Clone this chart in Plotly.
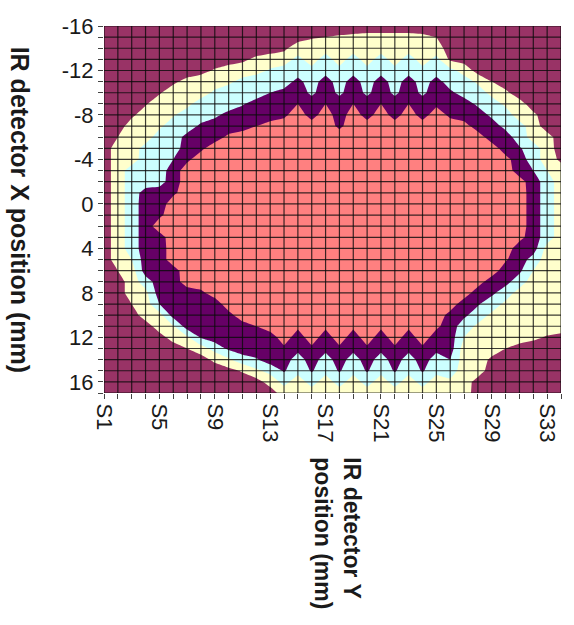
import plotly.graph_objects as go

# Grid of the IR detector scan: columns S1..S34 (detector Y), rows -16..17 mm (detector X)
cols = list(range(1, 35))
rows = list(range(-16, 18))
col_labels = ["S%d" % c for c in cols]
x_tick_cols = [1, 5, 9, 13, 17, 21, 25, 29, 33]
y_tick_rows = [-16, -12, -8, -4, 0, 4, 8, 12, 16]

N = None
# Per column (S1..S34): X position (mm) where each intensity band starts (top) and ends (bottom)
yellow_top = [N, -6.0, -7.8, -8.9, -9.9, -10.8, -11.3, -11.7, -12.1, -12.5, -12.8, -13.2,
              -13.5, -13.8, -14.6, -14.9, -15.0, -15.1, -15.2, -15.3, -15.3, -15.3, -15.3,
              -15.2, -15.0, -12.8, -12.6, -11.6, -11.0, -10.2, -9.4, -8.2, -6.4, -3.8]
yellow_bottom = [N, 6.0, 9.0, 10.5, 11.6, 12.4, 13.0, 13.6, 14.2, 14.7, 15.1, 15.6,
                 16.4, 17.5, 17.5, 17.5, 17.5, 17.5, 17.5, 17.5, 17.5, 17.5, 17.5,
                 17.5, 17.5, 17.5, 17.5, 15.6, 13.8, 13.0, 12.6, 12.2, 11.9, 11.7]
cyan_top = [N, N, -3.5, -5.4, -6.8, -7.9, -8.7, -9.5, -10.2, -10.8, -11.3, -11.7,
            -12.1, -12.4, -13.3, -12.3, -13.5, -12.3, -13.5, -12.3, -13.5, -12.3, -13.5,
            -12.3, -13.3, -12.3, -11.6, -10.8, -9.7, -8.8, -7.4, -5.6, -3.0, N]
cyan_bottom = [N, N, 5.0, 7.7, 9.6, 10.9, 11.7, 12.5, 13.2, 13.8, 14.4, 14.8,
               15.3, 16.3, 15.3, 16.4, 15.3, 16.4, 15.3, 16.4, 15.3, 16.4, 15.3,
               16.4, 15.3, 15.8, 12.0, 10.8, 9.8, 8.8, 7.6, 6.0, 3.6, N]
purple_top = [N, N, N, -1.4, -1.6, -4.0, -6.3, -7.2, -7.8, -8.3, -8.9, -9.4,
              -10.0, -10.3, -11.3, -9.8, -11.6, -9.8, -11.6, -9.8, -11.6, -9.8, -11.6,
              -9.8, -11.4, -10.2, -9.6, -8.8, -7.8, -6.7, -5.1, -3.0, N, N]
purple_bottom = [N, N, N, 6.5, 9.0, 10.4, 11.6, 12.1, 12.7, 13.2, 13.7, 13.9,
                 14.5, 15.1, 13.3, 15.1, 13.3, 15.1, 13.3, 15.1, 13.3, 15.1, 13.3,
                 15.1, 13.3, 14.0, 10.2, 9.1, 8.2, 7.3, 6.2, 4.6, N, N]
pink_top = [N, N, N, N, 1.2, -0.8, -3.8, -4.8, -5.6, -6.2, -6.6, -7.0,
            -7.4, -7.8, -9.0, -7.6, -9.0, -6.8, -9.0, -7.6, -9.0, -7.6, -9.0,
            -7.6, -8.8, -7.8, -7.4, -6.5, -5.5, -4.3, -2.4, N, N, N]
pink_bottom = [N, N, N, N, 2.6, 5.6, 7.5, 7.8, 8.4, 9.7, 10.6, 11.0,
               11.5, 12.8, 11.2, 12.8, 11.2, 12.8, 11.2, 12.8, 11.2, 12.8, 11.2,
               12.8, 11.2, 9.7, 8.5, 7.4, 6.5, 5.1, 3.3, N, N, N]

band_colors = ["#993366", "#FFFFCC", "#CCFFFF", "#660066", "#FF8080"]
bands = [(yellow_top, yellow_bottom), (cyan_top, cyan_bottom),
         (purple_top, purple_bottom), (pink_top, pink_bottom)]


def membership(v, top, bottom):
    # 1 inside the band, 0 outside, crossing 0.5 exactly on its edges
    if top is None:
        return 0.0
    return min(1.0, max(0.0, min(v - top, bottom - v) + 0.5))


# band level surface: each contour level k + 0.5 follows the edges of band k + 1
z = [[sum(membership(v, tops[j], bottoms[j]) for tops, bottoms in bands)
      for j in range(len(cols))] for v in rows]

# stepped colour scale so that each band gets one flat colour
scale = []
edges = [0, 0.125, 0.375, 0.625, 0.875, 1]
for k, col in enumerate(band_colors):
    scale.append([edges[k], col])
    scale.append([edges[k + 1], col])

fig = go.Figure()
fig.add_trace(go.Contour(
    x=cols, y=rows, z=z,
    zmin=0, zmax=4,
    contours=dict(start=0.5, end=3.5, size=1, coloring="fill", showlines=False),
    colorscale=scale, showscale=False, line=dict(width=0, smoothing=0),
    hoverinfo="skip",
))

grid_color = "rgba(10,10,10,0.8)"
for c in cols:
    fig.add_shape(type="line", xref="x", yref="y", x0=c, x1=c, y0=rows[0], y1=rows[-1],
                  line=dict(color=grid_color, width=1.2), layer="above")
for r in rows:
    fig.add_shape(type="line", xref="x", yref="y", x0=cols[0], x1=cols[-1], y0=r, y1=r,
                  line=dict(color=grid_color, width=1.2), layer="above")

font_family = "Liberation Sans, Arial, sans-serif"
tick_font = dict(family=font_family, size=22, color="#1a1a1a")
fig.update_layout(
    width=574, height=625,
    margin=dict(l=104, r=13, t=26, b=232),
    paper_bgcolor="white", plot_bgcolor="white",
    showlegend=False,
    xaxis=dict(
        range=[cols[0], cols[-1]], tickmode="array",
        tickvals=x_tick_cols, ticktext=[col_labels[c - 1] for c in x_tick_cols],
        tickangle=90, tickfont=tick_font, showgrid=False, zeroline=False,
        ticks="outside", ticklen=5, tickcolor="#444",
        minor=dict(tickmode="linear", tick0=1, dtick=1, ticks="outside", ticklen=5,
                   tickcolor="#444", showgrid=False),
    ),
    yaxis=dict(
        range=[rows[-1], rows[0]], tickmode="array",
        tickvals=y_tick_rows, ticktext=[str(v) for v in y_tick_rows],
        tickfont=tick_font, showgrid=False, zeroline=False,
        ticks="outside", ticklen=5, tickcolor="#444",
        minor=dict(tickmode="linear", tick0=0, dtick=1, ticks="outside", ticklen=5,
                   tickcolor="#444", showgrid=False),
    ),
    annotations=[
        dict(text="<b>IR detector X position (mm)</b>", textangle=90,
             xref="paper", yref="paper", x=-0.182, y=0.5, xanchor="center", yanchor="middle",
             showarrow=False, font=dict(family=font_family, size=25, color="#1a1a1a")),
        dict(text="<b>IR detector Y<br>position (mm)</b>", textangle=90,
             xref="paper", yref="paper", x=0.51, y=-0.17, xanchor="center", yanchor="top",
             showarrow=False, align="left",
             font=dict(family=font_family, size=23, color="#1a1a1a")),
    ],
)

fig.write_html("out.html")
